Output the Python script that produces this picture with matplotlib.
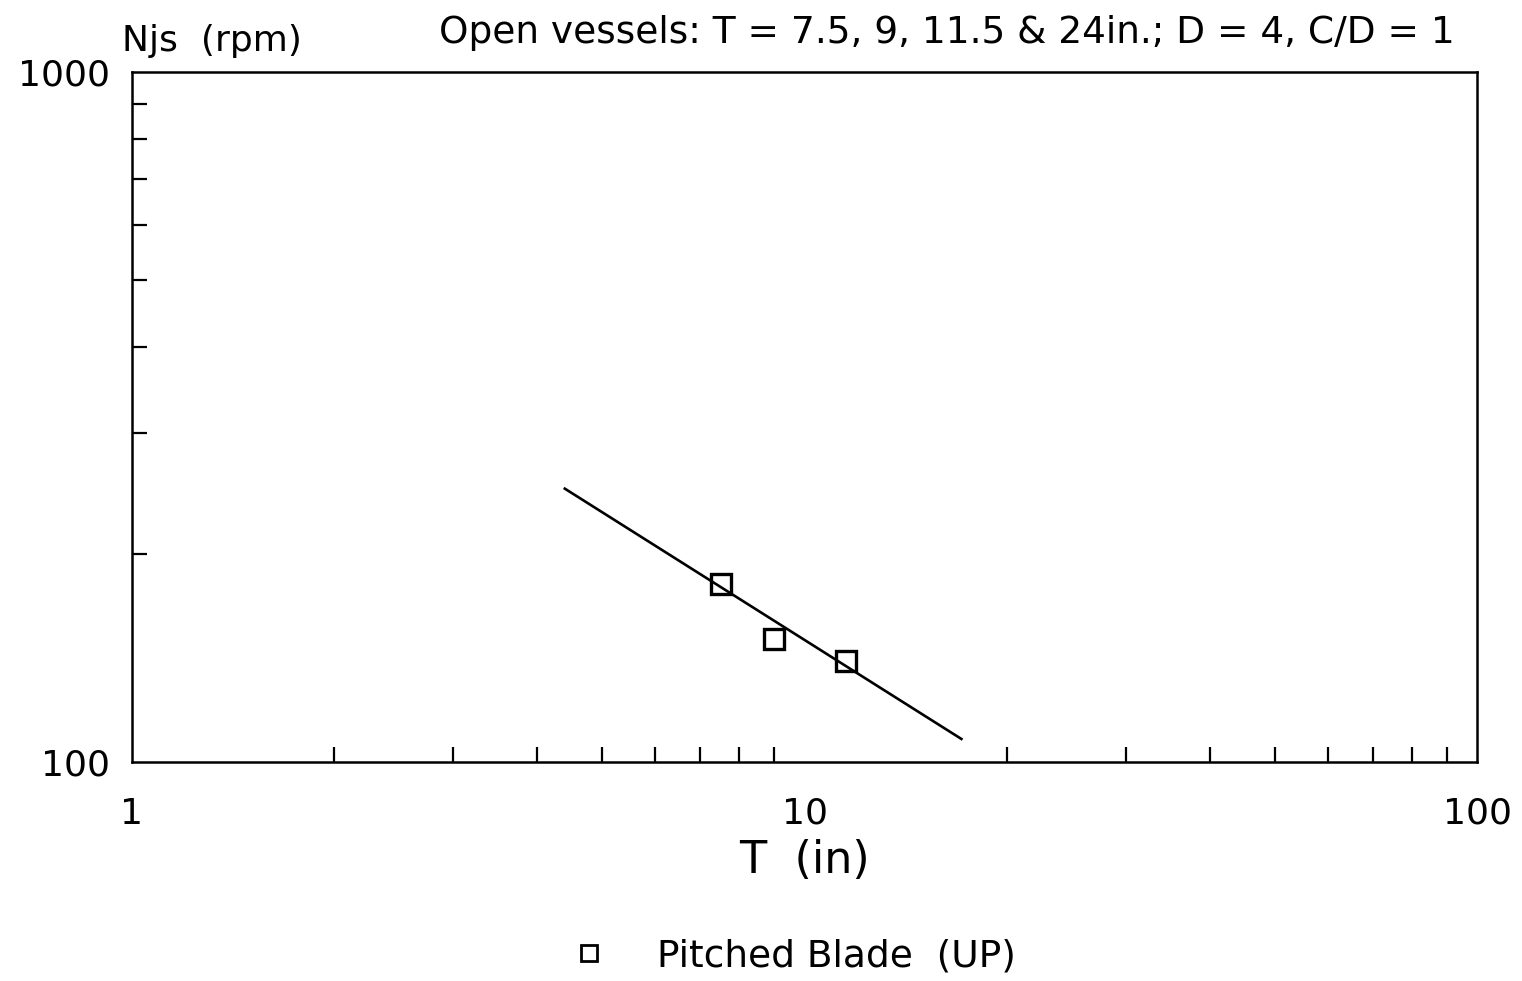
import matplotlib
matplotlib.use("Agg")
import matplotlib.pyplot as plt
from matplotlib.ticker import FixedLocator, NullFormatter, FixedFormatter
from matplotlib.lines import Line2D

# measured points (tank diameter vs just-suspended speed)
T_in = [7.5, 9.0, 11.5]
njs_rpm = [181, 151, 140]

# correlation line end points
fit_T = [4.4, 17.1]
fit_njs = [249, 108]

title = "Open vessels: T = 7.5, 9, 11.5 & 24in.; D = 4, C/D = 1"
legend_label = "Pitched Blade  (UP)"

plt.rcParams['font.family'] = ['DejaVu Sans']

fig = plt.figure(figsize=(15.22, 9.81), dpi=100)
ax = fig.add_axes([0.0867, 0.2232, 0.884, 0.7034])

ax.plot(fit_T, fit_njs, color='black', lw=1.9)
ax.plot(T_in, njs_rpm, linestyle='none', marker='s', markersize=15,
        markerfacecolor='none', markeredgecolor='black', markeredgewidth=2.4)

ax.set_xscale('log')
ax.set_yscale('log')
ax.set_xlim(1, 100)
ax.set_ylim(100, 1000)

ax.xaxis.set_major_locator(FixedLocator([1, 10, 100]))
ax.xaxis.set_major_formatter(FixedFormatter(['1', '10', '100']))
ax.xaxis.set_minor_locator(FixedLocator([2, 3, 4, 5, 6, 7, 8, 9, 20, 30, 40, 50, 60, 70, 80, 90]))
ax.xaxis.set_minor_formatter(NullFormatter())
ax.yaxis.set_major_locator(FixedLocator([100, 1000]))
ax.yaxis.set_major_formatter(FixedFormatter(['100', '1000']))
ax.yaxis.set_minor_locator(FixedLocator([200, 300, 400, 500, 600, 700, 800, 900]))
ax.yaxis.set_minor_formatter(NullFormatter())

ax.tick_params(which='major', length=0, labelsize=26)
ax.tick_params(which='minor', direction='in', length=11, width=1.6)
ax.tick_params(axis='x', which='major', pad=25)
ax.tick_params(axis='y', which='major', pad=16)
for s in ax.spines.values():
    s.set_linewidth(1.8)

ax.set_xlabel("T  (in)", fontsize=32, labelpad=6)
fig.text(0.08, 0.958, "Njs  (rpm)", fontsize=26, ha='left', va='center')
fig.text(0.956, 0.966, title, fontsize=27, ha='right', va='center')

handle = Line2D([], [], linestyle='none', marker='s', markersize=11,
                markerfacecolor='none', markeredgecolor='black', markeredgewidth=2)
fig.legend([handle], [legend_label], loc='center', bbox_to_anchor=(0.515, 0.025),
           frameon=False, fontsize=27, handletextpad=0.8)

fig.savefig("out.png", dpi=100)
